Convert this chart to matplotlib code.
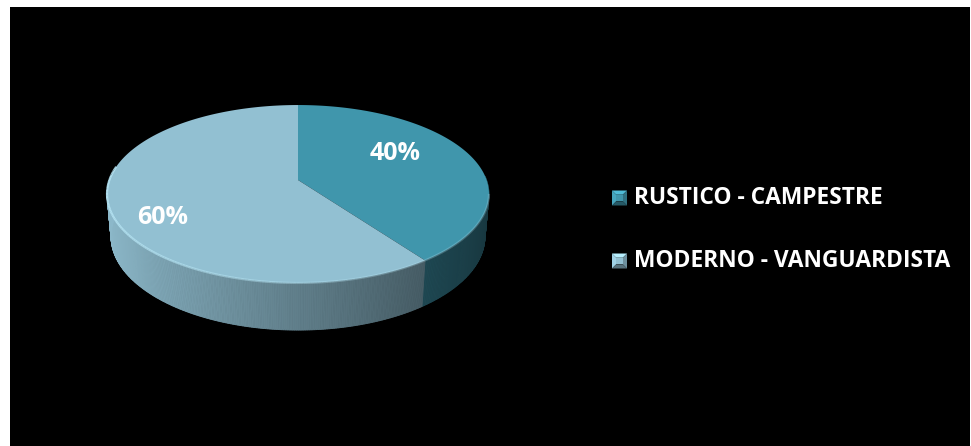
import numpy as np
import matplotlib
matplotlib.use("Agg")
import matplotlib.pyplot as plt
from matplotlib.patches import Polygon, Rectangle

# Survey shares
categories = ["RUSTICO - CAMPESTRE", "MODERNO - VANGUARDISTA"]
values = [40, 60]
top_colors = [(64, 150, 172), (146, 192, 210)]
pct_labels = [f"{v}%" for v in values]

W, H = 971, 446
fig = plt.figure(figsize=(W / 100, H / 100), dpi=100, facecolor="white")
ax = fig.add_axes([0, 0, 1, 1])
ax.set_xlim(0, W)
ax.set_ylim(H, 0)
ax.axis("off")

ax.add_patch(Rectangle((10, 7), 960, 440, facecolor="black", edgecolor="none", zorder=0))

# perspective projection of a flat cylinder
CX, CY = 298.0, 180.0
S = 188.6
ELEV = np.arcsin(0.46)
K = 0.177
HEIGHT = 0.256


def project(theta, y3):
    X = np.sin(theta)
    Z = np.cos(theta)
    w = 1 + K * (Z * np.cos(ELEV) - y3 * np.sin(ELEV))
    up = (Z * np.sin(ELEV) + y3 * np.cos(ELEV)) * S / w
    return CX + S * X / w, CY - up


def rgb(c, f=1.0):
    return tuple(min(1.0, max(0.0, ch * f / 255.0)) for ch in c)


total = float(sum(values))
bounds = np.concatenate([[0.0], np.cumsum(values) / total]) * 2 * np.pi

# outer walls (drawn as thin strips, shaded by facing direction)
for i, val in enumerate(values):
    t0, t1 = bounds[i], bounds[i + 1]
    ts = np.linspace(t0, t1, max(int((t1 - t0) * 120), 4))
    for a, b in zip(ts[:-1], ts[1:]):
        if np.cos((a + b) / 2) > 0.05:
            continue
        xa, ya = project(a, 0.0)
        xb, yb = project(b, 0.0)
        xc, yc = project(b, -HEIGHT)
        xd, yd = project(a, -HEIGHT)
        shade = 0.5 * (1 - np.sin((a + b) / 2))
        col = rgb(top_colors[i], 0.36 + 0.6 * shade)
        ax.add_patch(Polygon([(xa, ya), (xb, yb), (xc, yc), (xd, yd)], closed=True,
                             facecolor=col, edgecolor=col, linewidth=0.6, zorder=2))

# top faces
for i, val in enumerate(values):
    t0, t1 = bounds[i], bounds[i + 1]
    ts = np.linspace(t0, t1, 200)
    xs, ys = project(ts, 0.0)
    pts = [(CX, CY)] + list(zip(xs, ys))
    ax.add_patch(Polygon(pts, closed=True, facecolor=rgb(top_colors[i]),
                         edgecolor="none", zorder=3))

# soft highlight along the front rim of the top face
ts = np.linspace(np.pi * 0.55, np.pi * 1.55, 200)
xs, ys = project(ts, 0.0)
for j in range(len(ts) - 1):
    s = 0.5 * (1 - np.sin(ts[j]))
    ax.plot(xs[j:j + 2], ys[j:j + 2], color=(0.72, 0.9, 0.96), alpha=0.25 + 0.6 * s * s,
            linewidth=1.6, solid_capstyle="butt", zorder=4)

# percentage labels
label_pos = [(395, 153), (163, 218)]
for (x, y), txt in zip(label_pos, pct_labels):
    ax.text(x, y, txt, color="white", fontsize=18, fontweight="bold",
            family="Open Sans", ha="center", va="center", zorder=5)


# legend with bevelled square markers
def bevel_marker(x0, y0, size, c):
    x1, y1 = x0 + size, y0 + size
    inset = size * 0.28
    faces = [
        ([(x0, y0), (x1, y0), (x1 - inset, y0 + inset), (x0 + inset, y0 + inset)], 1.25),
        ([(x0, y0), (x0 + inset, y0 + inset), (x0 + inset, y1 - inset), (x0, y1)], 1.1),
        ([(x1, y0), (x1, y1), (x1 - inset, y1 - inset), (x1 - inset, y0 + inset)], 0.75),
        ([(x0, y1), (x0 + inset, y1 - inset), (x1 - inset, y1 - inset), (x1, y1)], 0.6),
    ]
    for pts, f in faces:
        ax.add_patch(Polygon(pts, closed=True, facecolor=rgb(c, f), edgecolor="none", zorder=5))
    ax.add_patch(Rectangle((x0 + inset, y0 + inset), size - 2 * inset, size - 2 * inset,
                           facecolor=rgb(c, 1.0), edgecolor="none", zorder=5))


legend_y = [198, 261]
for cat, c, y in zip(categories, top_colors, legend_y):
    bevel_marker(612, y - 7.5, 15, c)
    ax.text(634, y, cat, color="white", fontsize=16.4, fontweight="bold",
            family="Open Sans", ha="left", va="center", zorder=5)

fig.savefig("out.png", dpi=100, facecolor="white")
